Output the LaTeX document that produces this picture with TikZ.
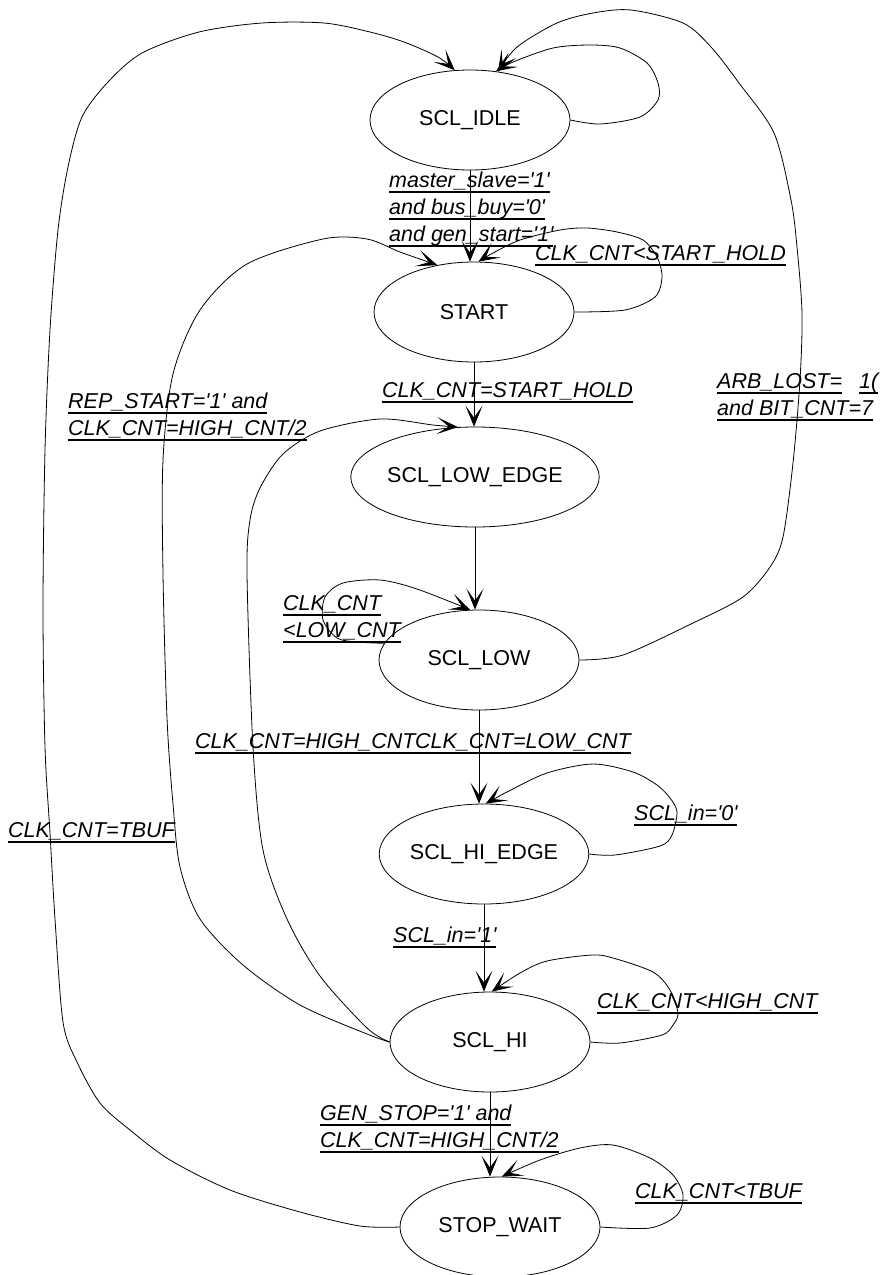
\documentclass[tikz,border=0pt]{standalone}
\usepackage{fontspec}
\setmainfont{Liberation Sans}
\usetikzlibrary{shapes.geometric,arrows.meta}
\newcommand\ulab[1]{\setbox0\hbox{#1}\rlap{\rule[-6.2pt]{\wd0}{2.2pt}}\box0}
\newcommand\q{\textquotesingle}
\tikzset{
  state/.style={ellipse,draw,line width=0.8pt,minimum width=200pt,minimum height=100pt,inner sep=0pt,font=\fontsize{21.5}{27}\selectfont},
  lab/.style={anchor=base west,inner sep=0pt,font=\fontsize{21.5}{27}\selectfont\itshape},
  conn/.style={line width=0.8pt,-{Stealth[length=21pt,width=17pt,inset=12pt]}},
  sm/.style={smooth,tension=0.5}
}
\begin{document}
\begin{tikzpicture}[x=1pt,y=-1pt]
\useasboundingbox (0,0) rectangle (890,1275);
% states
\node[state] (idle)    at (470,120)  {SCL\_IDLE};
\node[state] (start)   at (474,312)  {START};
\node[state] (lowedge) at (475,477)  {SCL\_LOW\_EDGE};
\node[state] (low)     at (479,660)  {SCL\_LOW};
\node[state] (hiedge)  at (484,854)  {SCL\_HI\_EDGE};
\node[state] (hi)      at (490,1042) {SCL\_HI};
\node[state] (stopw)   at (500,1227) {STOP\_WAIT};
% straight transitions
\draw[conn] (idle.south) -- (idle.south |- start.north);
\draw[conn] (start.south) -- (start.south |- lowedge.north);
\draw[conn] (lowedge.south) -- (lowedge.south |- low.north);
\draw[conn] (low.south) -- (low.south |- hiedge.north);
\draw[conn] (hiedge.south) -- (hiedge.south |- hi.north);
\draw[conn] (hi.south) -- (hi.south |- stopw.north);
% self loops
\draw[conn] plot[sm] coordinates {(idle.east) (600,124) (640,117) (658,100) (658,83) (647,63) (620,48) (590,45) (553,48) (513,62) (idle.62)};
\draw[conn] plot[sm] coordinates {(start.east) (625,310) (655,297) (662,277) (657,257) (643,240) (617,232) (587,228) (560,230) (520,240) (493,253) (start.85)};
\draw[conn] plot[sm] coordinates {(low.170) (357,642) (337,638) (323,620) (325,597) (343,583) (380,580) (417,589) (low.100)};
\draw[conn] plot[sm] coordinates {(hiedge.east) (615,855) (660,846) (672,835) (677,812) (670,798) (657,785) (633,772) (593,764) (547,773) (507,792) (hiedge.88)};
\draw[conn] plot[sm] coordinates {(hi.east) (620,1043) (662,1035) (673,1025) (678,1013) (670,990) (653,972) (613,958) (592,955) (547,961) (520,973) (hi.88)};
\draw[conn] plot[sm] coordinates {(stopw.east) (650,1228) (677,1215) (683,1195) (673,1175) (650,1158) (613,1145) (580,1148) (540,1160) (stopw.88)};
% long transitions
\draw[conn] plot[sm] coordinates {(low.east) (623,655) (693,623) (743,597) (770,567) (783,537) (793,463) (800,380) (802,313) (797,247) (791,200) (774,133) (739,83) (711,47) (683,23) (631,10) (593,13) (557,23) (517,47) (idle.60)};
\draw[conn] plot[sm] coordinates {(stopw.west) (360,1226) (300,1212) (230,1190) (170,1160) (130,1130) (100,1103) (77,1062) (63,1022) (55,919) (50,833) (45,747) (43,609) (45,450) (50,330) (58,230) (68,167) (82,117) (108,82) (142,53) (199,32) (262,23) (324,23) (370,32) (404,42) (438,57) (idle.107)};
\draw[conn] plot[sm] coordinates {(hi.west) (367,1034) (300,1005) (243,965) (200,919) (180,867) (173,804) (167,718) (163,574) (163,460) (173,374) (200,310) (247,264) (323,239) (367,239) (400,252) (start.128)};
\draw[conn] plot[sm] coordinates {(hi.west) (367,1028) (320,976) (287,919) (263,850) (253,747) (247,574) (250,520) (260,488) (283,454) (320,431) (380,419) (433,425) (lowedge.109)};
% labels
\node[lab] (l1) at (389,187) {\vtop{\hbox{\ulab{master\_slave=\q1\q}}\hbox{\ulab{and bus\_buy=\q0\q}}\hbox{\ulab{and gen\_start=\q1\q}}}};
\node[lab] (l2) at (535,260) {\ulab{CLK\_CNT<START\_HOLD}};
\node[lab] (l3) at (382,397) {\ulab{CLK\_CNT=START\_HOLD}};
\node[lab] (l4) at (717,388) {\vtop{\hbox{\ulab{ARB\_LOST=}\hspace{17pt}\ulab{1(}}\hbox{\ulab{and BIT\_CNT=7}}}};
\node[lab] (l5) at (68,408) {\vtop{\hbox{\ulab{REP\_START=\q1\q\ and}}\hbox{\ulab{CLK\_CNT=HIGH\_CNT/2}}}};
\node[lab] (l6) at (283,610) {\vtop{\hbox{\ulab{CLK\_CNT}}\hbox{\ulab{<LOW\_CNT}}}};
\node[lab] (l7) at (195,748) {\ulab{CLK\_CNT=HIGH\_CNT}};
\node[lab] (l8) at (415,748) {\ulab{CLK\_CNT=LOW\_CNT}};
\node[lab] (l9) at (634,820) {\ulab{SCL\_in=\q0\q}};
\node[lab] (l10) at (8,837) {\ulab{CLK\_CNT=TBUF}};
\node[lab] (l11) at (393,942) {\ulab{SCL\_in=\q1\q}};
\node[lab] (l12) at (597,1008) {\ulab{CLK\_CNT<HIGH\_CNT}};
\node[lab] (l13) at (320,1120) {\vtop{\hbox{\ulab{GEN\_STOP=\q1\q\ and}}\hbox{\ulab{CLK\_CNT=HIGH\_CNT/2}}}};
\node[lab] (l14) at (635,1198) {\ulab{CLK\_CNT<TBUF}};
\end{tikzpicture}
\end{document}
